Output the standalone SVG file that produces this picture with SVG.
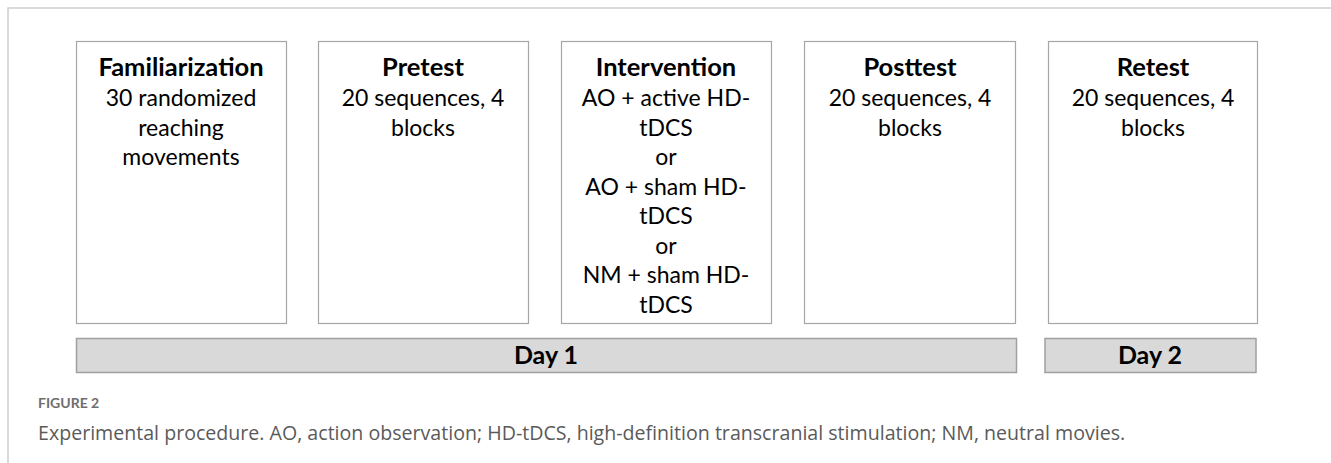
<svg xmlns="http://www.w3.org/2000/svg" width="1331" height="463" viewBox="0 0 1331 463">
<style>
.box{fill:#fff;stroke:#a6a6a6;stroke-width:1.2}
.bar{fill:#d9d9d9;stroke:#a0a0a0;stroke-width:1.5}
.t{font-family:Lato,"Liberation Sans",sans-serif;font-size:23px;fill:#000;text-anchor:middle}
.b{font-weight:bold;font-size:25.5px}
.day{font-family:Lato,"Liberation Sans",sans-serif;font-size:25px;font-weight:bold;fill:#000;text-anchor:middle}
.cap1{font-family:Lato,"Open Sans",sans-serif;font-size:14px;font-weight:bold;fill:#6e6e6e}
.cap2{font-family:"Open Sans",Lato,sans-serif;font-size:19.6px;fill:#5a5a5a}
</style>
<rect width="1331" height="463" fill="#fff"/>
<path d="M8 463 V8 H1331" fill="none" stroke="#d0d0d0" stroke-width="1.6"/>
<g id="familiarization">
<rect class="box" x="76.5" y="41.5" width="210" height="282"/>
<text class="t b" x="181" y="76">Familiarization</text>
<text class="t" x="181" y="106">30 randomized</text>
<text class="t" x="181" y="135.5">reaching</text>
<text class="t" x="181" y="165">movements</text>
</g>
<g id="pretest">
<rect class="box" x="318.5" y="41.5" width="210" height="282"/>
<text class="t b" x="423" y="76">Pretest</text>
<text class="t" x="423" y="106">20 sequences, 4</text>
<text class="t" x="423" y="135.5">blocks</text>
</g>
<g id="intervention">
<rect class="box" x="561.5" y="41.5" width="210" height="282"/>
<text class="t b" x="666" y="76">Intervention</text>
<text class="t" x="666" y="106">AO + active HD-</text>
<text class="t" x="666" y="135.5">tDCS</text>
<text class="t" x="666" y="165">or</text>
<text class="t" x="666" y="194.5">AO + sham HD-</text>
<text class="t" x="666" y="224">tDCS</text>
<text class="t" x="666" y="253.5">or</text>
<text class="t" x="666" y="283">NM + sham HD-</text>
<text class="t" x="666" y="312.5">tDCS</text>
</g>
<g id="posttest">
<rect class="box" x="804.5" y="41.5" width="211" height="282"/>
<text class="t b" x="910" y="76">Posttest</text>
<text class="t" x="910" y="106">20 sequences, 4</text>
<text class="t" x="910" y="135.5">blocks</text>
</g>
<g id="retest">
<rect class="box" x="1048.5" y="41.5" width="209" height="282"/>
<text class="t b" x="1153" y="76">Retest</text>
<text class="t" x="1153" y="106">20 sequences, 4</text>
<text class="t" x="1153" y="135.5">blocks</text>
</g>
<g id="day1">
<rect class="bar" x="76.5" y="338.5" width="940" height="34"/>
<text class="day" x="546" y="364">Day 1</text>
</g>
<g id="day2">
<rect class="bar" x="1045" y="338.5" width="211" height="34"/>
<text class="day" x="1150" y="364">Day 2</text>
</g>
<g id="connectors"></g>
<text class="cap1" x="38" y="408">FIGURE 2</text>
<text class="cap2" x="38" y="440">Experimental procedure. AO, action observation; HD-tDCS, high-definition transcranial stimulation; NM, neutral movies.</text>
</svg>
